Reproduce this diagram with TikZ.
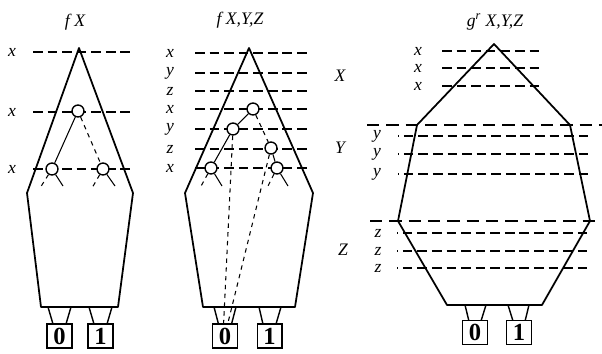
\documentclass[tikz,border=0pt]{standalone}
\usepackage{fontspec}
\setmainfont{Liberation Serif}
\tikzset{
  outline/.style={line width=1pt, line join=round},
  leg/.style={line width=0.8pt},
  level/.style={line width=0.6pt, dash pattern=on 5.5pt off 2.8pt},
  dotlevel/.style={level, dash phase=5pt},
  cut/.style={line width=1.1pt, dash pattern=on 7pt off 4pt},
  bdd/.style={circle, draw, fill=white, line width=0.8pt, minimum size=6.8pt, inner sep=0pt},
  hi/.style={line width=0.6pt},
  lo/.style={line width=0.6pt, dash pattern=on 2.5pt off 2.5pt},
  var/.style={font=\itshape, inner sep=0pt},
  ttl/.style={font=\itshape},
  term/.style={draw, line width=0.8pt, minimum width=14pt, minimum height=13.5pt,
               inner sep=0pt, font=\fontsize{14}{14}\selectfont\bfseries},
}

\begin{document}
\begin{tikzpicture}[x=0.02cm, y=-0.02cm]
  \useasboundingbox (0,0) rectangle (602,353);

  % f X
  \node[ttl] (ta) at (75,22) {f X};
  \foreach \y in {52,112,169} {
    \draw[level] (33,\y) -- (130,\y);
    \node[var] (la\y) at (12,\y) {x};
  }
  \draw[outline] (79,48) -- (133,193) -- (118,307) -- (41,307) -- (27,193) -- cycle;
  \node[bdd] (a1) at (78,111) {};
  \node[bdd] (a2) at (52,169) {};
  \node[bdd] (a3) at (103,169) {};
  \coordinate (a2l) at (40,188);
  \coordinate (a2r) at (63,186);
  \coordinate (a3l) at (92,188);
  \coordinate (a3r) at (115,186);
  \draw[hi] (a1) -- (a2);
  \draw[lo] (a1) -- (a3);
  \draw[lo] (a2) -- (a2l);
  \draw[hi] (a2) -- (a2r);
  \draw[lo] (a3) -- (a3l);
  \draw[hi] (a3) -- (a3r);
  \node[term] (t0a) at (59.5,336) {0};
  \node[term] (t1a) at (100.5,336) {1};
  \draw[leg] (48,307) -- ([xshift=-3.8pt]t0a.north);
  \draw[leg] (71,307) -- ([xshift=3.8pt]t0a.north);
  \draw[leg] (89,307) -- ([xshift=-3.8pt]t1a.north);
  \draw[leg] (112,307) -- ([xshift=3.8pt]t1a.north);

  % f X,Y,Z
  \node[ttl] (tb) at (240,20) {f X,Y,Z};
  \foreach \y/\v in {53/x,73/y,91/z,109/x,129/y,149/z,168/x} {
    \draw[level] (195,\y) -- (307,\y);
    \node[var] (lb\y) at (170,\y) {\v};
  }
  \draw[outline] (249,48) -- (313,193) -- (295,307) -- (203,307) -- (185,193) -- cycle;
  \node[term] (t0b) at (225,336) {0};
  \node[term] (t1b) at (269.5,336) {1};
  \node[bdd] (b1) at (253,109) {};
  \node[bdd] (b2) at (233,129) {};
  \node[bdd] (b3) at (271,148) {};
  \node[bdd] (b4) at (211,168) {};
  \node[bdd] (b5) at (277,168) {};
  \coordinate (b4l) at (200,188);
  \coordinate (b4r) at (222,186);
  \coordinate (b5l) at (267,188);
  \coordinate (b5r) at (288,186);
  \draw[hi] (b1) -- (b2);
  \draw[lo] (b1) -- (b3);
  \draw[hi] (b2) -- (b4);
  \draw[hi] (b3) -- (b5);
  \draw[lo] (b2) -- ([xshift=-0.8pt]t0b.north);
  \draw[lo] (b3) -- ([xshift=1.6pt]t0b.north);
  \draw[lo] (b4) -- (b4l);
  \draw[hi] (b4) -- (b4r);
  \draw[lo] (b5) -- (b5l);
  \draw[hi] (b5) -- (b5r);
  \draw[leg] (214,307) -- ([xshift=-3.8pt]t0b.north);
  \draw[leg] (236,307) -- ([xshift=3.8pt]t0b.north);
  \draw[leg] (259,307) -- ([xshift=-3.8pt]t1b.north);
  \draw[leg] (281,307) -- ([xshift=3.8pt]t1b.north);
  \node[var] (lX) at (340,76) {X};
  \node[var] (lY) at (340,148) {Y};
  \node[var] (lZ) at (343,250) {Z};

  % g^r X,Y,Z
  \node[ttl] (tc) at (495,22) {g\textsuperscript{r} X,Y,Z};
  \foreach \y in {51,68,86} {
    \draw[level] (442,\y) -- (540,\y);
    \node[var] (lc\y) at (418,\y) {x};
  }
  \foreach \y in {136,154,174} {
    \draw[dotlevel] (398,\y) -- (592,\y);
    \node[var] (lc\y) at (377,\y) {y};
  }
  \foreach \y in {233,251,268} {
    \draw[dotlevel] (397,\y) -- (592,\y);
    \node[var] (lc\y) at (378,\y) {z};
  }
  \draw[cut] (367,125) -- (602,125);
  \draw[cut] (370,221) -- (602,221);
  \draw[outline] (494,44) -- (570,125) -- (590,221) -- (542,305) -- (447,305)
    -- (398,221) -- (417,125) -- cycle;
  \node[term] (t0c) at (475,332.5) {0};
  \node[term] (t1c) at (519,332.5) {1};
  \draw[leg] (465,305) -- ([xshift=-3.6pt]t0c.north);
  \draw[leg] (486,305) -- ([xshift=3.6pt]t0c.north);
  \draw[leg] (508,305) -- ([xshift=-3.6pt]t1c.north);
  \draw[leg] (529,305) -- ([xshift=3.6pt]t1c.north);
\end{tikzpicture}
\end{document}
